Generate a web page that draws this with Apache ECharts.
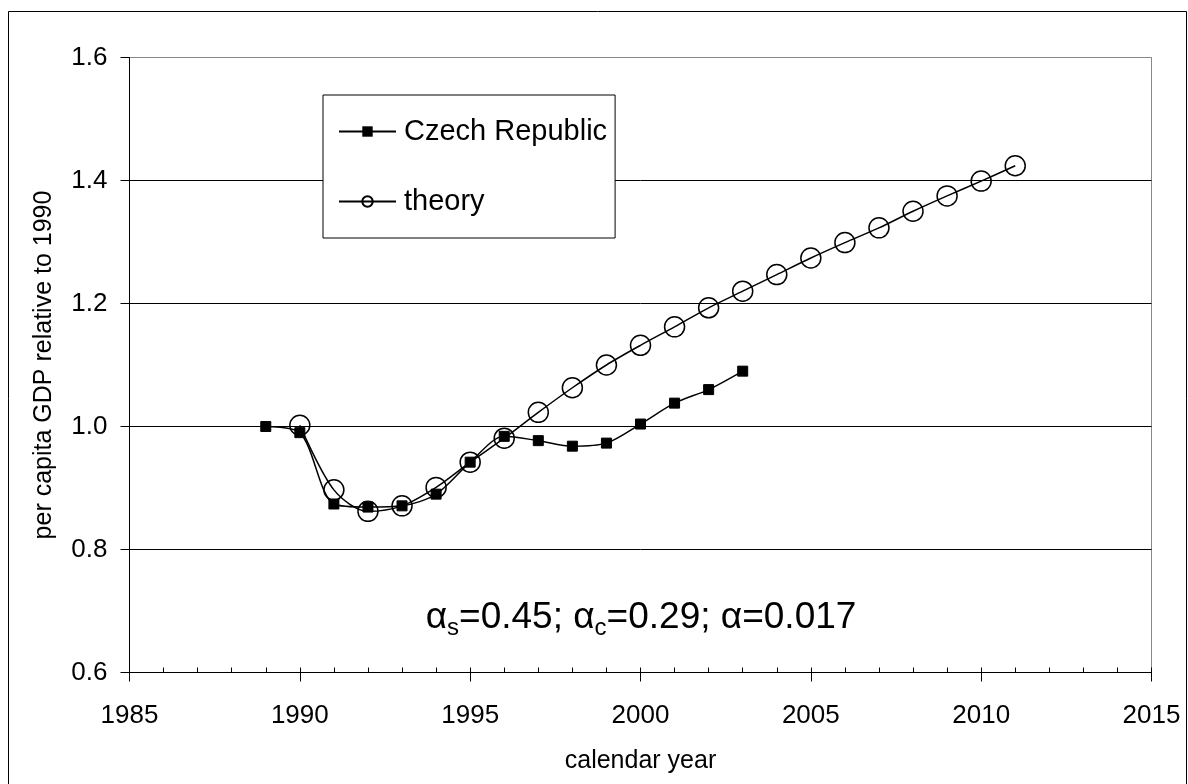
<!DOCTYPE html>
<html>
<head>
<meta charset="utf-8">
<script src="https://cdn.jsdelivr.net/npm/echarts@6/dist/echarts.min.js"></script>
<style>
html,body{margin:0;padding:0;background:#fff;}
#chart{width:1188px;height:784px;}
</style>
</head>
<body>
<div id="chart"></div>
<script>
// ---- data ----
var czechYears = [1989,1990,1991,1992,1993,1994,1995,1996,1997,1998,1999,2000,2001,2002,2003];
var czechValues = [1.000,0.990,0.874,0.869,0.871,0.890,0.942,0.984,0.977,0.968,0.973,1.004,1.038,1.060,1.090];
var theoryYears = [1990,1991,1992,1993,1994,1995,1996,1997,1998,1999,2000,2001,2002,2003,2004,2005,2006,2007,2008,2009,2010,2011];
var theoryValues = [1.002,0.897,0.862,0.871,0.901,0.942,0.981,1.023,1.063,1.100,1.132,1.162,1.193,1.220,1.247,1.274,1.299,1.323,1.350,1.375,1.399,1.424];
var seriesNames = ['Czech Republic','theory'];
var xTitle = 'calendar year';
var yTitle = 'per capita GDP relative to 1990';

function pairs(xs, ys){ return xs.map(function(x,i){ return [x, ys[i]]; }); }

var FONT = "'Liberation Sans', Arial, sans-serif";
var chart = echarts.init(document.getElementById('chart'), null, {renderer:'canvas'});

chart.setOption({
  animation: false,
  backgroundColor: '#fff',
  grid: {
    left: 129.5, top: 57.5, right: 36.5, bottom: 111.5,
    show: true, borderColor: '#888', borderWidth: 1, backgroundColor: 'transparent'
  },
  xAxis: [{
    type: 'value', min: 1985, max: 2015, interval: 5,
    name: xTitle, nameLocation: 'middle', nameGap: 76,
    nameTextStyle: {fontFamily: FONT, fontSize: 25, color: '#000'},
    axisLine: {show: true, onZero: false, lineStyle: {color: '#000', width: 1}},
    axisTick: {show: true, inside: false, length: 9, lineStyle: {color: '#000'}},
    axisLabel: {fontFamily: FONT, fontSize: 26, color: '#000', margin: 30,
      formatter: function(v){ return String(v); }},
    splitLine: {show: false}
  }, {
    type: 'value', min: 1985, max: 2015, interval: 1, position: 'bottom',
    axisLine: {show: false, onZero: false},
    axisTick: {show: true, inside: true, length: 5, lineStyle: {color: '#000'}},
    axisLabel: {show: false},
    splitLine: {show: false}
  }],
  yAxis: {
    type: 'value', min: 0.6, max: 1.6, interval: 0.2,
    name: yTitle, nameLocation: 'middle', nameGap: 73, nameRotate: 90,
    nameTextStyle: {fontFamily: FONT, fontSize: 25, color: '#000'},
    axisLine: {show: true, onZero: false, lineStyle: {color: '#000', width: 1}},
    axisTick: {show: true, inside: false, length: 9, lineStyle: {color: '#000'}},
    axisLabel: {fontFamily: FONT, fontSize: 26, color: '#000', margin: 22,
      formatter: function(v){ return v.toFixed(1); }},
    splitLine: {show: true, lineStyle: {color: ['#000','#000','#000','#000','#000','#888'], width: 1}}
  },
  legend: {
    data: seriesNames,
    orient: 'vertical',
    left: 323, top: 95,
    itemWidth: 57, itemHeight: 13, itemGap: 39,
    padding: [21, 8, 21, 15],
    backgroundColor: '#fff', borderColor: '#000', borderWidth: 1,
    textStyle: {fontFamily: FONT, fontSize: 29, color: '#000', lineHeight: 31, padding: [0,0,0,3]}
  },
  graphic: [{
    type: 'rect', silent: true, z: -10,
    shape: {x: 8.5, y: 11.5, width: 1178, height: 800},
    style: {fill: 'none', stroke: '#000', lineWidth: 1}
  }, {
    type: 'text', x: 641, y: 618, z: 10,
    style: {
      text: '{a|α}{s|s}{t|=0.45; }{a|α}{s|c}{t|=0.29; }{a|α}{t|=0.017}',
      align: 'center', verticalAlign: 'middle',
      fontFamily: FONT, fontSize: 37, fill: '#000',
      rich: {
        a: {fontFamily: FONT, fontSize: 37, lineHeight: 44, fill: '#000'},
        t: {fontFamily: FONT, fontSize: 37, lineHeight: 44, fill: '#000'},
        s: {fontFamily: FONT, fontSize: 24, lineHeight: 24, verticalAlign: 'bottom', fill: '#000'}
      }
    }
  }],
  series: [{
    name: seriesNames[0], type: 'line', xAxisIndex: 0,
    data: pairs(czechYears, czechValues),
    smooth: 0.3,
    symbol: 'rect', symbolSize: 10,
    lineStyle: {color: '#000', width: 1.5},
    itemStyle: {color: '#000', borderColor: '#000'},
    z: 3
  }, {
    name: seriesNames[1], type: 'line', xAxisIndex: 0,
    data: pairs(theoryYears, theoryValues),
    smooth: 0.3,
    symbol: 'circle', symbolSize: 20,
    lineStyle: {color: '#000', width: 1.5},
    itemStyle: {color: 'rgba(0,0,0,0)', borderColor: '#000', borderWidth: 1.5},
    z: 4
  }]
});
</script>
</body>
</html>
